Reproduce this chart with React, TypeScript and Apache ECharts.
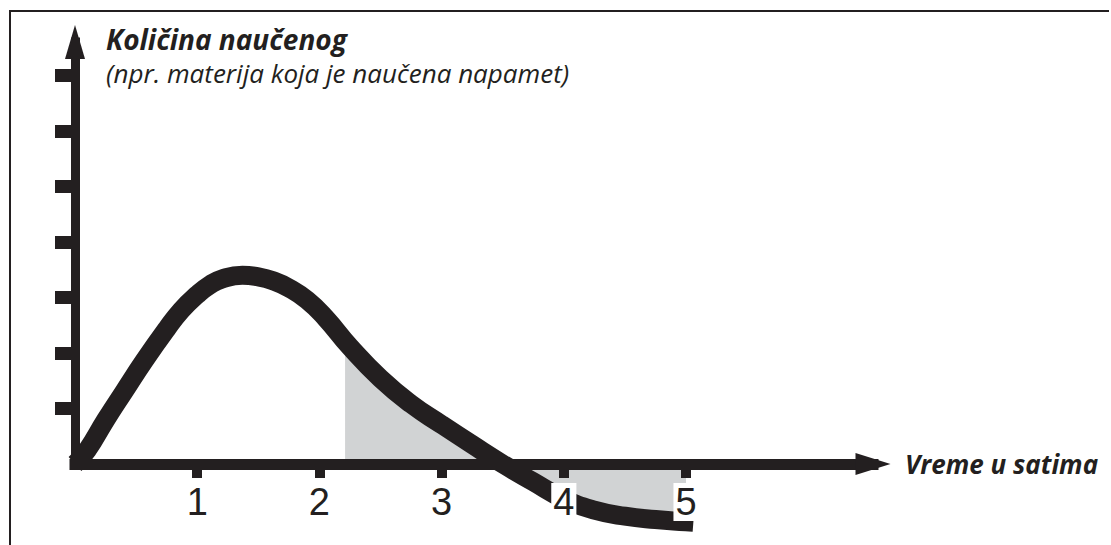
import React, { useEffect, useRef } from "react";
import * as echarts from "echarts";

const curveX = [0, 0.1, 0.25, 0.4, 0.57, 0.75, 0.87, 1.0, 1.1, 1.2, 1.37, 1.5, 1.62, 1.75, 1.9, 2.05, 2.25, 2.5, 2.75, 3.0, 3.25, 3.5, 3.75, 4.0, 4.25, 4.5, 4.75, 5.0, 5.06];
const curveY = [0, 0.25, 0.79, 1.3, 1.87, 2.43, 2.77, 3.05, 3.22, 3.33, 3.4, 3.37, 3.3, 3.17, 2.95, 2.63, 2.11, 1.54, 1.08, 0.71, 0.35, 0, -0.32, -0.63, -0.83, -0.94, -1.0, -1.04, -1.05];

const shadeX = [2.21, 2.25, 2.5, 2.75, 3.0, 3.25, 3.5, 3.75, 4.0, 4.25, 4.5, 4.75, 5.0];
const shadeY = [2.22, 2.11, 1.54, 1.08, 0.71, 0.35, 0, -0.32, -0.63, -0.83, -0.94, -1.0, -1.04];

const xTicks = [1, 2, 3, 4, 5];
const yTicks = [1, 2, 3, 4, 5, 6, 7];

const titleText = "Količina naučenog";
const subtitleText = "(npr. materija koja je naučena napamet)";
const xName = "Vreme u satima";

const INK = "#231f20";
const SHADE = "#d1d3d4";
const SANS = "'Open Sans', 'Noto Sans', sans-serif";

export default function App() {
  const ref = useRef<HTMLDivElement>(null);
  useEffect(() => {
    if (!ref.current) return;
    const chart = echarts.init(ref.current, undefined, { renderer: "svg" });
    chart.setOption({
      animation: false,
      backgroundColor: "#ffffff",
      title: {
        text: titleText,
        subtext: subtitleText,
        left: 106,
        top: 25,
        padding: 0,
        itemGap: 6,
        textStyle: { fontFamily: SANS, fontStyle: "italic", fontWeight: "bold", fontSize: 28, lineHeight: 28, color: INK },
        subtextStyle: { fontFamily: SANS, fontStyle: "italic", fontWeight: "normal", fontSize: 26, lineHeight: 28, color: INK },
      },
      graphic: [
        { type: "line", shape: { x1: 9, y1: 11, x2: 1109, y2: 11 }, style: { stroke: INK, lineWidth: 2 } },
        { type: "line", shape: { x1: 10, y1: 10, x2: 10, y2: 545 }, style: { stroke: INK, lineWidth: 2 } },
      ],
      grid: { left: 75, width: 798, top: 42, bottom: 81, containLabel: false },
      xAxis: {
        type: "value",
        min: 0,
        max: 6.53,
        z: 10,
        splitLine: { show: false },
        name: xName,
        nameLocation: "end",
        nameGap: 32,
        nameTextStyle: { fontFamily: SANS, fontStyle: "italic", fontWeight: "bold", fontSize: 26, color: INK, verticalAlign: "middle" },
        axisLine: {
          show: true,
          onZero: false,
          symbol: ["none", "triangle"],
          symbolSize: [22, 35],
          lineStyle: { color: INK, width: 11, cap: "square" },
        },
        axisTick: { show: true, inside: false, length: 14, customValues: xTicks, lineStyle: { color: INK, width: 10 } },
        axisLabel: {
          show: true,
          customValues: xTicks,
          margin: 19,
          fontFamily: "'Liberation Sans Narrow', 'Liberation Sans', Arial, sans-serif",
          fontSize: 38,
          color: INK,
          backgroundColor: "#ffffff",
          padding: [0, 2, 0, 2],
        },
      },
      yAxis: {
        type: "value",
        min: 0,
        max: 7.6,
        z: 10,
        splitLine: { show: false },
        axisLine: {
          show: true,
          onZero: false,
          symbol: ["none", "triangle"],
          symbolSize: [20, 34],
          lineStyle: { color: INK, width: 9, cap: "square" },
        },
        axisTick: { show: true, inside: false, length: 20, customValues: yTicks, lineStyle: { color: INK, width: 13 } },
        axisLabel: { show: false },
      },
      series: [
        {
          type: "line",
          data: shadeX.map((x, i) => [x, shadeY[i]]),
          smooth: 0.5,
          symbol: "none",
          clip: false,
          z: 1,
          lineStyle: { width: 0, opacity: 0 },
          areaStyle: { color: SHADE, opacity: 1 },
          silent: true,
        },
        {
          type: "line",
          data: curveX.map((x, i) => [x, curveY[i]]),
          smooth: 0.5,
          symbol: "none",
          clip: false,
          z: 2,
          lineStyle: { width: 19, color: INK, cap: "butt", join: "round" },
          silent: true,
        },
      ],
    });
    return () => chart.dispose();
  }, []);
  return <div ref={ref} style={{ position: "fixed", left: 0, top: 0, width: 1111, height: 545 }} />;
}
